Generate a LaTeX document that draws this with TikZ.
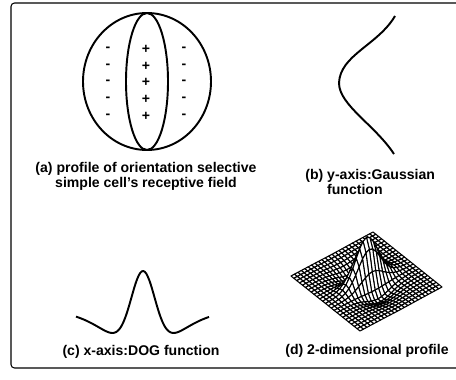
\documentclass[tikz,border=0pt]{standalone}
\usepackage{fontspec}
\setsansfont{Liberation Sans}
\usetikzlibrary{calc}
\tikzset{capt/.style={font=\sffamily\bfseries\fontsize{8}{6.6}\selectfont,align=center,inner sep=0pt},
  sgn/.style={font=\sffamily\bfseries\fontsize{8}{8}\selectfont,inner sep=0pt},
  curve/.style={line width=1.1pt},
  mesh/.style={fill=white,draw=black,line width=0.6pt,line join=round},
  declare function={dogx(\a)=1.45*exp(-100*\a*\a)-0.45*exp(-17.3*\a*\a); gsy(\b)=exp(-28*\b*\b);}}
% grid point of the surface: name, u, v
\newcommand\meshxy[3]{%
  \pgfmathsetmacro\mx{291+69*#2+82*#3}%
  \pgfmathsetmacro\my{276+55*#2-44*#3-44*dogx(#2-0.5)*gsy(#3-0.5)}%
  \coordinate (#1) at (\mx,\my);}

\begin{document}
\begin{tikzpicture}[x=0.02cm,y=-0.02cm,line join=round]
\useasboundingbox (0,0) rectangle (456,379);
\draw[line width=0.6pt,rounded corners=2pt] (456,3) -- (11,3) -- (11,368) -- (456,368); % frame
% --- (a) receptive field
\begin{scope}
\draw[curve] (147,81.5) ellipse [x radius=64,y radius=68.5];
\draw[curve] (147,81.5) ellipse [x radius=21,y radius=68.5];
\foreach \k/\y in {1/49,2/66,3/82,4/99,5/116}{
  \node[sgn] (ml\k) at (108,\y) {-};
  \node[sgn] (pl\k) at (146,\y) {+};
  \node[sgn] (mr\k) at (184,\y) {-};
}
\node[capt] (capa) at (146,176.5) {(a) profile of orientation selective\\simple cell's receptive field};
\end{scope}
% --- (b) Gaussian along y
\begin{scope}
\draw[curve] (395,16) .. controls (378,45) and (340,55) .. (339,83) .. controls (339,105) and (375,125) .. (394,154);
\node[capt,align=left,anchor=north west] (capb) at (305,169) {(b) y-axis:Gaussian\\\phantom{(b) }function};
\end{scope}
% --- (c) DOG along x
\begin{scope}
\draw[curve] plot[domain=-67:66,samples=90,smooth] ({143+\x},{310.7-76.7*exp(-\x*\x/288)+37*exp(-\x*\x/2450)});
\node[capt] (capc) at (141,352) {(c) x-axis:DOG function};
\end{scope}
% --- (d) surface, drawn back to front
\begin{scope}
\foreach \i in {0,...,23}{
  \foreach \j in {23,...,0}{
    \pgfmathsetmacro\ua{\i/24}\pgfmathsetmacro\ub{(\i+1)/24}
    \pgfmathsetmacro\va{\j/24}\pgfmathsetmacro\vb{(\j+1)/24}
    \meshxy{q1}{\ua}{\va}\meshxy{q2}{\ub}{\va}\meshxy{q3}{\ub}{\vb}\meshxy{q4}{\ua}{\vb}
    \filldraw[mesh] (q1) -- (q2) -- (q3) -- (q4) -- cycle;
  }
}
\node[capt] (capd) at (367,351) {(d) 2-dimensional profile};
\end{scope}
\end{tikzpicture}
\end{document}
